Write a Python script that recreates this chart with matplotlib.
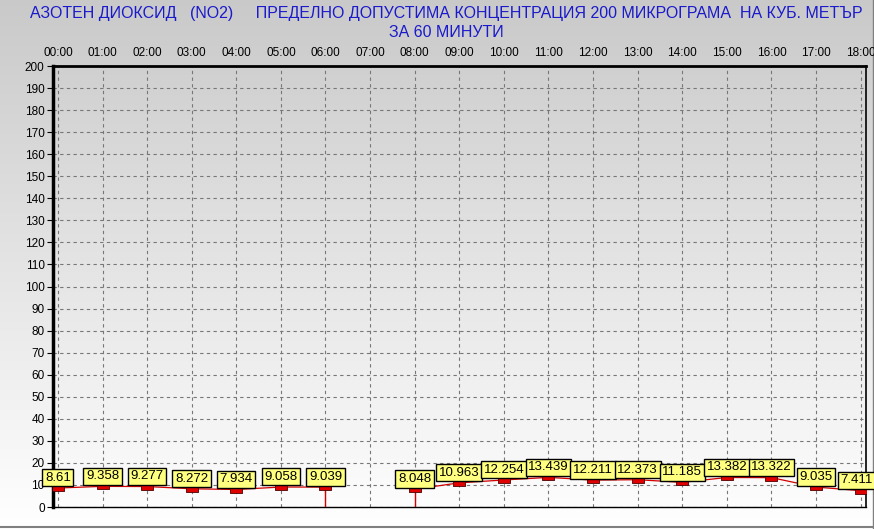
import numpy as np
import matplotlib.pyplot as plt
from matplotlib.path import Path

plt.rcParams['font.family'] = ['Liberation Sans', 'DejaVu Sans']

# hourly NO2 values, None = no measurement
hours = ["00:00", "01:00", "02:00", "03:00", "04:00", "05:00", "06:00", "07:00", "08:00",
         "09:00", "10:00", "11:00", "12:00", "13:00", "14:00", "15:00", "16:00", "17:00", "18:00"]
values = [8.61, 9.358, 9.277, 8.272, 7.934, 9.058, 9.039, None, 8.048,
          10.963, 12.254, 13.439, 12.211, 12.373, 11.185, 13.382, 13.322, 9.035, 7.411]
labels = ["8.61", "9.358", "9.277", "8.272", "7.934", "9.058", "9.039", "", "8.048",
          "10.963", "12.254", "13.439", "12.211", "12.373", "11.185", "13.382", "13.322", "9.035", "7.411"]
y_ticks = list(range(0, 201, 10))

title = ("АЗОТЕН ДИОКСИД   (NO2)     ПРЕДЕЛНО ДОПУСТИМА КОНЦЕНТРАЦИЯ 200 МИКРОГРАМА  НА КУБ. МЕТЪР\n"
         "ЗА 60 МИНУТИ")

W, H = 874, 529
fig = plt.figure(figsize=(W / 100, H / 100), dpi=100)

# background gradient over the whole figure
bg = fig.add_axes([0, 0, 1, 1], zorder=-10)
grad = np.linspace(0.79, 1.0, 256).reshape(-1, 1)
bg.imshow(np.dstack([grad, grad, grad]), aspect='auto', extent=[0, 1, 0, 1], origin='upper')
bg.set_axis_off()
# thin frame lines of the window
bg.plot([0, 1], [0.004, 0.004], color='#808080', lw=1.5, transform=bg.transAxes)
bg.plot([0.999, 0.999], [0, 1], color='#808080', lw=1.0, transform=bg.transAxes)
bg.set_xlim(0, 1)
bg.set_ylim(0, 1)

left, right, top, bottom = 53, 866, 66, 507
ax = fig.add_axes([left / W, 1 - bottom / H, (right - left) / W, (bottom - top) / H])
ax.patch.set_alpha(0)

x = np.arange(len(hours))
y = np.array([np.nan if v is None else v for v in values])

ax.plot(x, y, color='#d40000', lw=0.9, zorder=3)
# drop lines around the gap
for i, v in enumerate(values):
    if v is None:
        continue
    prev_missing = i > 0 and values[i - 1] is None
    next_missing = i < len(values) - 1 and values[i + 1] is None
    if prev_missing or next_missing:
        ax.vlines(i, 0, v, color='#d40000', lw=1.0, zorder=3)

# wide flat rectangle marker
rect = Path([(-1, -0.55), (1, -0.55), (1, 0.55), (-1, 0.55), (-1, -0.55)],
            [Path.MOVETO, Path.LINETO, Path.LINETO, Path.LINETO, Path.CLOSEPOLY])
ax.scatter(x, y, marker=rect, s=75, color='#e00000', edgecolor='#500000', linewidths=0.6, zorder=4)
ax.set_xlim(-0.11, 18.12)
ax.set_ylim(0, 200)

for i, v in enumerate(values):
    if v is None:
        continue
    dx = -3 if i == len(values) - 1 else 0
    ax.annotate(labels[i], (i, v), xytext=(dx, 3), textcoords='offset points',
                ha='center', va='bottom', fontsize=9.5, color='black', zorder=5,
                bbox=dict(boxstyle='square,pad=0.2', fc='#ffff80', ec='black', lw=1.0),
                annotation_clip=False)

ax.set_xticks(x)
ax.set_xticklabels(hours, fontsize=8.5)
ax.xaxis.tick_top()
ax.tick_params(axis='x', length=0, pad=5)
ax.set_yticks(y_ticks)
ax.set_yticklabels([str(t) for t in y_ticks], fontsize=8.5)
ax.tick_params(axis='y', length=4, width=0.8, direction='out', pad=2)

ax.grid(True, color='#777777', linestyle=(0, (3, 3)), lw=0.8)
ax.set_axisbelow(True)

ax.spines['left'].set_linewidth(2.5)
ax.spines['right'].set_linewidth(1.2)
ax.spines['top'].set_linewidth(2.0)
ax.spines['top'].set_linestyle((0, (4, 1)))
ax.spines['bottom'].set_linewidth(1.0)
ax.spines['bottom'].set_linestyle((0, (2, 1)))

fig.text(446 / W, 1 - 6 / H, title, ha='center', va='top', fontsize=11.5,
         color='#1a1acc', linespacing=1.3)

fig.savefig('out.png', dpi=100)
